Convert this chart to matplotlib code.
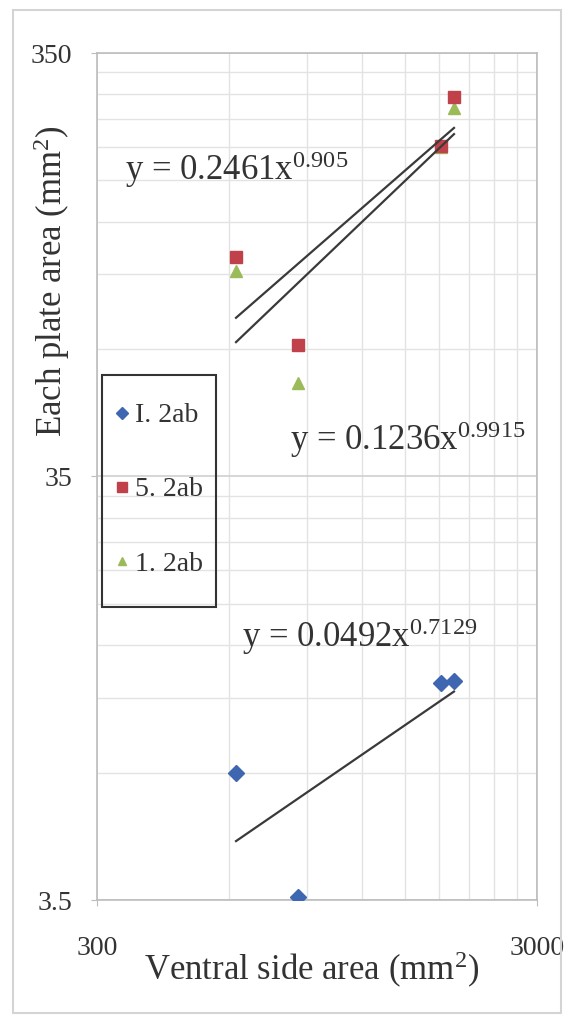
import numpy as np
import matplotlib
matplotlib.use("Agg")
import matplotlib.pyplot as plt
from matplotlib.patches import Rectangle
from matplotlib.ticker import FixedLocator, NullFormatter, FixedFormatter

# ---- data ----
x_area = [621, 859, 1815, 1943]
blue_y = [7.0, 3.56, 11.36, 11.5]
red_y = [115.7, 71.6, 210.8, 275.0]
green_y = [107.0, 58.3, 210.0, 259.0]
labels = ["I. 2ab", "5. 2ab", "1. 2ab"]
fit_a = [0.0492, 0.2461, 0.1236]
fit_b = [0.7129, 0.905, 0.9915]
eq_texts = [r"y = 0.0492x$^{0.7129}$", r"y = 0.2461x$^{0.905}$", r"y = 0.1236x$^{0.9915}$"]
x_major = [300, 3000]
y_major = [3.5, 35, 350]
x_minor = [600, 900, 1200, 1500, 1800, 2100, 2400, 2700]
y_minor = [7, 10.5, 14, 17.5, 21, 24.5, 28, 31.5, 70, 105, 140, 175, 210, 245, 280, 315]

W, H = 568, 1022
plt.rcParams['font.family'] = ['Liberation Serif', 'DejaVu Serif']
plt.rcParams['mathtext.fontset'] = 'custom'
plt.rcParams['mathtext.rm'] = 'Liberation Serif'
plt.rcParams['mathtext.it'] = 'Liberation Serif'
plt.rcParams['mathtext.default'] = 'rm'

TXT = '#333333'
fig = plt.figure(figsize=(W / 100, H / 100), dpi=100)
fig.patches.append(Rectangle((13 / W, 1 - 1013 / H), (561 - 13) / W, (1013 - 10) / H,
                             transform=fig.transFigure, fill=False, ec='#d4d4d4', lw=1.5))

L, R, T, B = 97, 537, 53, 900
ax = fig.add_axes([L / W, 1 - B / H, (R - L) / W, (B - T) / H])
ax.set_xscale('log')
ax.set_yscale('log')
ax.set_xlim(300, 3000)
ax.set_ylim(3.5, 350)

ax.xaxis.set_major_locator(FixedLocator(x_major))
ax.xaxis.set_major_formatter(FixedFormatter([str(v) for v in x_major]))
ax.xaxis.set_minor_locator(FixedLocator(x_minor))
ax.xaxis.set_minor_formatter(NullFormatter())
ax.yaxis.set_major_locator(FixedLocator(y_major))
ax.yaxis.set_major_formatter(FixedFormatter(["3.5", "35", "350"]))
ax.yaxis.set_minor_locator(FixedLocator(y_minor))
ax.yaxis.set_minor_formatter(NullFormatter())

ax.grid(True, which='minor', color='#e3e3e3', lw=1.0)
ax.grid(True, which='major', color='#cfcfcf', lw=1.2)
ax.set_axisbelow(True)
for s in ax.spines.values():
    s.set_color('#bdbdbd')
    s.set_linewidth(1.2)
ax.tick_params(which='minor', length=0)
ax.tick_params(which='major', length=4, color='#bdbdbd', labelsize=20, labelcolor=TXT)
ax.tick_params(axis='x', pad=22)
ax.tick_params(axis='y', pad=14)

# series
ax.plot(x_area, blue_y, 'D', color='#3f66b0', ms=8, mec='#3f66b0', label=labels[0], zorder=3)
ax.plot(x_area, red_y, 's', color='#c0414a', ms=9, mec='#c0414a', label=labels[1], zorder=3)
ax.plot(x_area, green_y, '^', color='#9bbb59', ms=8, mec='#9bbb59', label=labels[2], zorder=2)

# trend lines
xs = np.linspace(min(x_area), max(x_area), 50)
for a, b in zip(fit_a, fit_b):
    ax.plot(xs, a * xs ** b, color='#3a3a3a', lw=1.6, zorder=4)

# equations
def px(xp, yp):
    return xp / W, 1 - yp / H

fig.text(*px(125, 170), eq_texts[1], fontsize=25, color=TXT, va='center', ha='left')
fig.text(*px(290, 440), eq_texts[2], fontsize=25, color=TXT, va='center', ha='left')
fig.text(*px(242, 637), eq_texts[0], fontsize=25, color=TXT, va='center', ha='left')

# axis labels
fig.text(*px(312, 970), r"Ventral side area (mm$^{2}$)", fontsize=25, color=TXT,
         ha='center', va='center')
fig.text(*px(52, 281), r"Each plate area (mm$^{2}$)", fontsize=25, color=TXT,
         ha='center', va='center', rotation=90)

# legend (frame drawn separately)
fig.patches.append(Rectangle((102 / W, 1 - 607 / H), (216 - 102) / W, (607 - 375) / H,
                             transform=fig.transFigure, fill=False, ec='#333333', lw=1.5))
leg = ax.legend(loc='upper left', bbox_to_anchor=px(116, 403), bbox_transform=fig.transFigure,
                frameon=False, fontsize=20, handlelength=0.4, handletextpad=0.3,
                labelspacing=1.75, borderpad=0, markerscale=0.75, borderaxespad=0)
for t in leg.get_texts():
    t.set_color(TXT)

fig.savefig('out.png', dpi=100)
